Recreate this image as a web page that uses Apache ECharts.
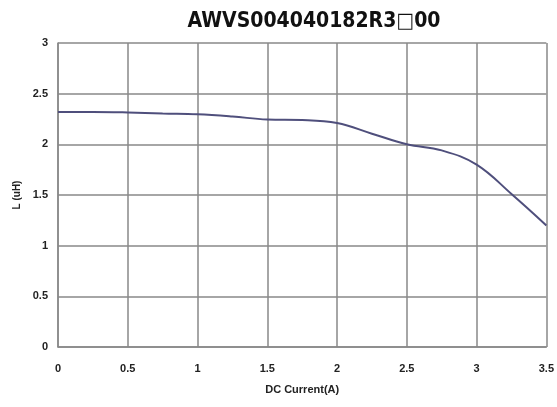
<!DOCTYPE html>
<html>
<head>
<meta charset="utf-8">
<script src="https://cdn.jsdelivr.net/npm/echarts@6/dist/echarts.min.js"></script>
<style>
html,body{margin:0;padding:0;background:#fff;}
#c{width:557px;height:407px;}
</style>
</head>
<body>
<div id="c"></div>
<script>
const titleText = "AWVS004040182R3\u25A100";
const xName = "DC Current(A)";
const yName = "L (uH)";
const current = [0, 0.25, 0.5, 0.75, 1.0, 1.25, 1.5, 1.75, 2.0, 2.25, 2.5, 2.75, 3.0, 3.25, 3.5];
const inductance = [2.32, 2.32, 2.315, 2.305, 2.297, 2.275, 2.245, 2.24, 2.21, 2.105, 2.0, 1.94, 1.8, 1.51, 1.2];

const chart = echarts.init(document.getElementById('c'), null, {renderer: 'canvas'});
const labelFont = {fontFamily: 'Liberation Sans, Arial, sans-serif', fontWeight: 'bold', fontSize: 11, color: '#222'};
chart.setOption({
  backgroundColor: '#ffffff',
  animation: false,
  title: {
    text: titleText,
    left: 309, top: 6, textAlign: 'center',
    textStyle: {fontFamily: 'DejaVu Sans Condensed, DejaVu Sans, sans-serif', fontWeight: 'bold', fontSize: 21, color: '#111'}
  },
  grid: {left: 58, right: 9, top: 43, bottom: 60, containLabel: false},
  xAxis: {
    type: 'value', min: 0, max: 3.5, interval: 0.5,
    name: xName, nameLocation: 'middle', nameGap: 37,
    nameTextStyle: Object.assign({}, labelFont, {fontSize: 11}),
    axisLine: {show: true, lineStyle: {color: '#888', width: 1.5}},
    axisTick: {show: false},
    splitLine: {show: true, lineStyle: {color: '#888', width: 1.5}},
    axisLabel: Object.assign({}, labelFont, {margin: 16, formatter: v => String(v)})
  },
  yAxis: {
    type: 'value', min: 0, max: 3, interval: 0.5,
    name: yName, nameLocation: 'middle', nameGap: 28,
    nameTextStyle: Object.assign({}, labelFont, {fontSize: 10}),
    axisLine: {show: true, lineStyle: {color: '#888', width: 1.5}},
    axisTick: {show: false},
    splitLine: {show: true, lineStyle: {color: '#888', width: 1.5}},
    axisLabel: Object.assign({}, labelFont, {margin: 10, formatter: v => String(v)})
  },
  series: [{
    type: 'line',
    data: current.map((x, i) => [x, inductance[i]]),
    smooth: 0.4,
    showSymbol: false,
    lineStyle: {color: '#4f4f7c', width: 2}
  }]
});
</script>
</body>
</html>
